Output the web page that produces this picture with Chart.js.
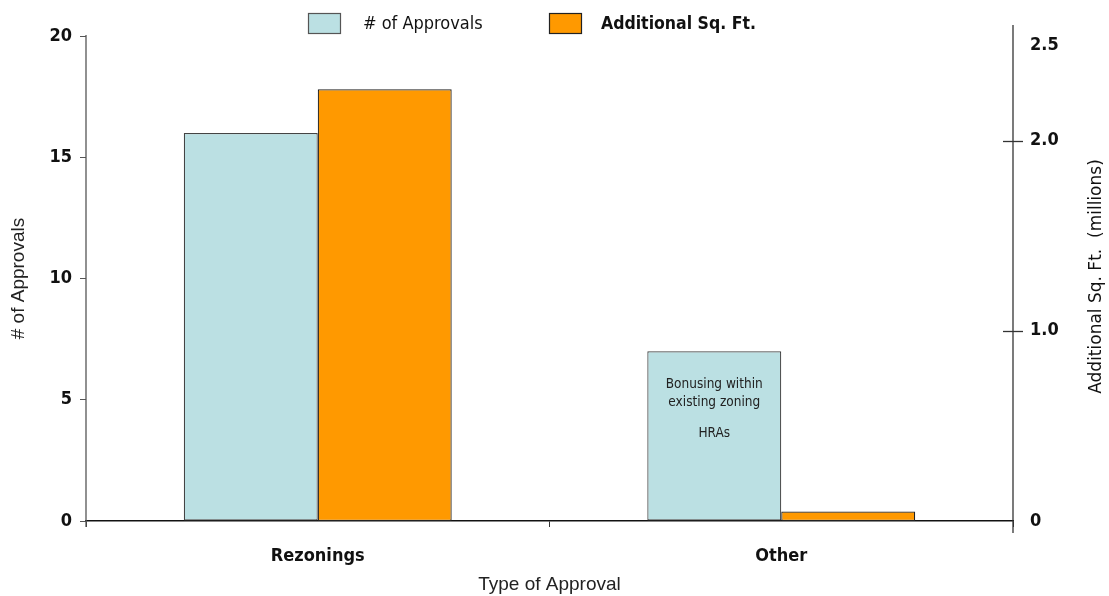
<!DOCTYPE html>
<html>
<head>
<meta charset="utf-8">
<title>Approvals by Type</title>
<script src="https://cdn.jsdelivr.net/npm/chart.js@4.4.1/dist/chart.umd.min.js"></script>
<style>
  html, body { margin: 0; padding: 0; background: #ffffff; }
  #wrap { width: 1109px; height: 596px; position: relative; }
</style>
</head>
<body>
<div id="wrap"><canvas id="chart" width="1109" height="596"></canvas></div>
<script>
// Categories and series
const categories = ['Rezonings', 'Other'];
const seriesNames = ['# of Approvals', 'Additional Sq. Ft.'];
const approvals = [16, 7];
const additionalSqFt = [2.27, 0.05];   // millions of square feet

// Axis ticks
const leftTicks = [0, 5, 10, 15, 20];
const rightTicks = [0, 1.0, 2.0, 2.5];

// Note printed inside the "Other" approvals bar
const otherNote = ['Bonusing within', 'existing zoning', '', 'HRAs'];

const BLUE = '#bbe0e3';
const ORANGE = '#ff9900';
const TICK_FONT = { family: 'DejaVu Sans Condensed', size: 18, weight: 'bold' };

// Extra drawing: extended axis lines, right-axis cross ticks, right title, legend, bar note
const decor = {
  id: 'decor',
  afterDraw(chart) {
    const { ctx, chartArea: a, scales } = chart;
    const y1 = scales.y1;
    ctx.save();

    const line = (x0, yA, x1, yB) => {
      ctx.beginPath(); ctx.moveTo(x0, yA); ctx.lineTo(x1, yB); ctx.stroke();
    };

    // left axis line
    ctx.strokeStyle = '#555';
    ctx.lineWidth = 1.3;
    line(a.left, a.top - 1, a.left, a.bottom + 6);

    // right axis line with ticks crossing it
    ctx.strokeStyle = '#333';
    line(a.right, a.top - 11, a.right, a.bottom + 12);
    rightTicks.filter(v => v > 0 && v < y1.max - 0.2).forEach(v => {
      const py = Math.round(y1.getPixelForValue(v)) + 0.5;
      line(a.right - 10, py, a.right + 10, py);
    });

    // right axis title, reading upward
    ctx.fillStyle = '#111';
    ctx.font = '17px "DejaVu Sans"';
    ctx.textAlign = 'center';
    ctx.textBaseline = 'middle';
    ctx.save();
    ctx.translate(1097, (a.top + a.bottom) / 2 - 2);
    ctx.rotate(-Math.PI / 2);
    ctx.fillText('Additional Sq. Ft.  (millions)', 0, 0);
    ctx.restore();

    // legend
    const items = [
      { box: 308, text: 363, fill: BLUE, stroke: '#555', font: '18px "DejaVu Sans Condensed"' },
      { box: 549, text: 601, fill: ORANGE, stroke: '#222', font: 'bold 17.5px "DejaVu Sans Condensed"' }
    ];
    items.forEach((it, i) => {
      ctx.fillStyle = it.fill;
      ctx.fillRect(it.box, 13, 32, 20);
      ctx.strokeStyle = it.stroke;
      ctx.lineWidth = 1.2;
      ctx.strokeRect(it.box + 0.5, 13.5, 32, 20);
      ctx.fillStyle = '#111';
      ctx.font = it.font;
      ctx.textAlign = 'left';
      ctx.textBaseline = 'middle';
      ctx.fillText(chart.data.datasets[i].label, it.text, 24);
    });

    // note inside the "Other" approvals bar
    const bar = chart.getDatasetMeta(0).data[1];
    ctx.fillStyle = '#222';
    ctx.font = '13.5px "DejaVu Sans Condensed"';
    ctx.textAlign = 'center';
    ctx.textBaseline = 'middle';
    const offsets = [33, 51, 66, 82];
    otherNote.forEach((t, k) => { if (t) ctx.fillText(t, bar.x, bar.y + offsets[k]); });

    ctx.restore();
  }
};

new Chart(document.getElementById('chart'), {
  type: 'bar',
  data: {
    labels: categories,
    datasets: [
      {
        label: seriesNames[0],
        data: approvals,
        yAxisID: 'y',
        backgroundColor: BLUE,
        borderColor: '#444',
        borderWidth: 1.2,
        borderSkipped: false
      },
      {
        label: seriesNames[1],
        data: additionalSqFt,
        yAxisID: 'y1',
        backgroundColor: ORANGE,
        borderColor: '#222',
        borderWidth: 1.2,
        borderSkipped: false
      }
    ]
  },
  options: {
    responsive: false,
    animation: false,
    layout: { padding: { top: 36, left: 0, right: 0, bottom: 0 } },
    datasets: { bar: { categoryPercentage: 0.578, barPercentage: 1.0 } },
    plugins: {
      legend: { display: false },
      tooltip: { enabled: false }
    },
    scales: {
      x: {
        offset: true,
        grid: { drawOnChartArea: false, tickLength: 6, color: '#333', offset: true },
        border: { display: true, color: '#111', width: 1.5 },
        ticks: { font: TICK_FONT, color: '#111', padding: 19 },
        title: {
          display: true,
          text: 'Type of Approval',
          font: { family: 'Liberation Sans', size: 19 },
          color: '#222',
          padding: { top: 0, bottom: 0 }
        },
        afterFit(scale) { scale.height = 75; }
      },
      y: {
        position: 'left',
        min: 0,
        max: 20,
        afterBuildTicks(scale) { scale.ticks = leftTicks.map(v => ({ value: v })); },
        grid: { drawOnChartArea: false, tickLength: 6, color: '#555' },
        border: { display: false },
        ticks: { font: TICK_FONT, color: '#111', padding: 8 },
        title: {
          display: true,
          text: '# of Approvals',
          font: { family: 'Liberation Sans', size: 19 },
          color: '#222',
          padding: { top: 7, bottom: 0 }
        },
        afterFit(scale) { scale.width = 86; }
      },
      y1: {
        position: 'right',
        min: 0,
        max: 2.55,
        afterBuildTicks(scale) { scale.ticks = rightTicks.map(v => ({ value: v })); },
        grid: { display: false, drawTicks: false },
        border: { display: false },
        ticks: {
          font: TICK_FONT,
          color: '#111',
          padding: 17,
          callback: v => (v === 0 ? '0' : Number(v).toFixed(1))
        },
        afterFit(scale) { scale.width = 96; }
      }
    }
  },
  plugins: [decor]
});
</script>
</body>
</html>
